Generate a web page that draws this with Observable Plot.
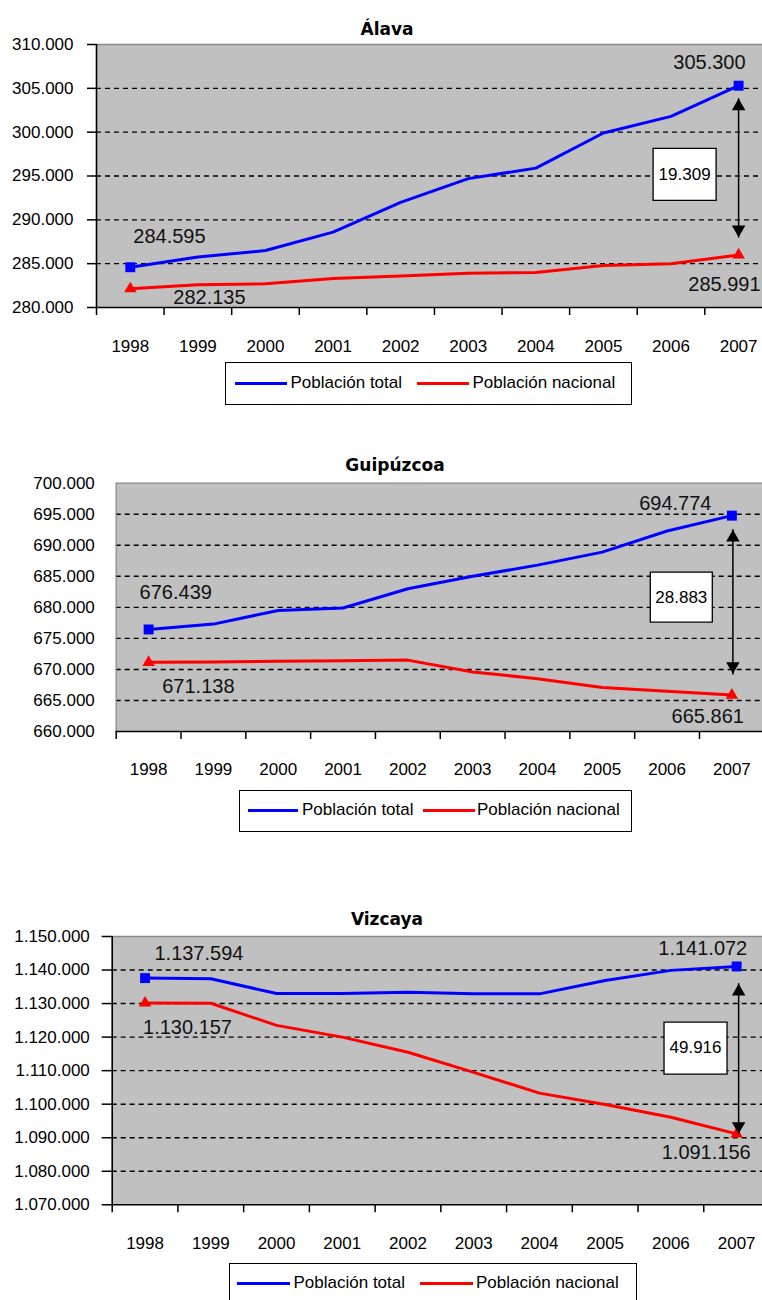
<!DOCTYPE html>
<html>
<head>
<meta charset="utf-8">
<script src="https://cdn.jsdelivr.net/npm/d3@7"></script>
<script src="https://cdn.jsdelivr.net/npm/@observablehq/plot@0.6"></script>
<style>
  html, body { margin: 0; padding: 0; background: #fff; overflow: hidden; }
  #page { position: relative; width: 762px; height: 1300px; overflow: hidden; font-family: "Liberation Sans", Arial, sans-serif; color: #000; }
  .chart { position: absolute; left: 0; }
  .title { position: absolute; font: bold 17px "DejaVu Sans", sans-serif; transform: translate(-50%, -50%); white-space: nowrap; }
  .legend { position: absolute; border: 1.5px solid #000; box-sizing: border-box; background: #fff; }
  .legend .sw { position: absolute; height: 3px; }
  .legend .lt { position: absolute; font-size: 17px; line-height: 20px; white-space: nowrap; transform: translateY(-50%); }
</style>
</head>
<body>
<div id="page"></div>
<script>
// ---------- data ----------
const years = [1998, 1999, 2000, 2001, 2002, 2003, 2004, 2005, 2006, 2007];
const seriesNames = ["Población total", "Población nacional"];
const seriesColors = ["#0000ff", "#ff0000"];
const provinces = ["Álava", "Guipúzcoa", "Vizcaya"];

const alavaTotal     = [284595, 285750, 286500, 288600, 292000, 294700, 295900, 299900, 301800, 305300];
const alavaNacional  = [282135, 282600, 282700, 283300, 283600, 283900, 284000, 284800, 285000, 285991];
const guipuzcoaTotal    = [676439, 677300, 679500, 679900, 683000, 685000, 686800, 688900, 692300, 694774];
const guipuzcoaNacional = [671138, 671200, 671300, 671400, 671500, 669600, 668500, 667100, 666500, 665861];
const vizcayaTotal    = [1137594, 1137400, 1133000, 1133000, 1133400, 1132900, 1132900, 1136900, 1139900, 1141072];
const vizcayaNacional = [1130157, 1130100, 1123500, 1120000, 1115500, 1109500, 1103300, 1099900, 1096100, 1091156];
const differences = [19309, 28883, 49916];

const alavaTicks     = [280000, 285000, 290000, 295000, 300000, 305000, 310000];
const guipuzcoaTicks = [660000, 665000, 670000, 675000, 680000, 685000, 690000, 695000, 700000];
const vizcayaTicks   = [1070000, 1080000, 1090000, 1100000, 1110000, 1120000, 1130000, 1140000, 1150000];

// ---------- formatting ----------
const es = d3.formatLocale({decimal: ",", thousands: ".", grouping: [3], currency: ["", " €"]});
const fmt = es.format(",d");

// ---------- layout (pixels) ----------
const layouts = [
  { svgTop: 0, mTop: 44, frameBottom: 307, left: 96, step: 67.59, yAxisLine: true, yTickSize: 9, yTickPadding: 14, xPad: 32,
    title: [387, 29],
    arrowDx: 0, insets: [13, 18], heads: [20.6, -25.6],
    box: [63, 52], boxOff: [-54, 4],
    labels: { first: [[3, -31, "start"], [43, 9, "start"]], last: [[7, -23.5, "end"], [22, 29.5, "end"]] },
    legend: { left: 225, top: 362, width: 407, height: 43, cy: 383.5, lines: [[235, 287], [417, 469]], texts: [291, 473] } },
  { svgTop: 440, mTop: 42.7, frameBottom: 731, left: 115.7, step: 64.81, yAxisLine: false, yTickSize: 0, yTickPadding: 21.4, xPad: 31,
    title: [395, 465],
    arrowDx: 1, insets: [14, 21], heads: [22, -29.1],
    box: [62, 50], boxOff: [-50.6, -8.2],
    labels: { first: [[-9, -37.3, "start"], [13.6, 24, "start"]], last: [[-20.4, -12.4, "end"], [12, 21.4, "end"]] },
    legend: { left: 239, top: 790, width: 393, height: 42, cy: 810.5, lines: [[248, 298], [423, 475]], texts: [302.5, 477.5] } },
  { svgTop: 900, mTop: 36, frameBottom: 1204.3, left: 111.7, step: 65.73, yAxisLine: true, yTickSize: 10, yTickPadding: 12.4, xPad: 32,
    title: [387, 919],
    arrowDx: 2, insets: [17.4, 0], heads: [25.2, -7.8],
    box: [63, 52], boxOff: [-41.1, -2.1],
    labels: { first: [[9.4, -24.3, "start"], [-2, 24.8, "start"]], last: [[10.6, -17.6, "end"], [14, 18.4, "end"]] },
    legend: { left: 229, top: 1262.5, width: 408, height: 43, cy: 1283.5, lines: [[237.5, 290.5], [420, 473.5]], texts: [294, 476.5] } }
];

const provinceSeries = [
  {total: alavaTotal, nacional: alavaNacional, ticks: alavaTicks},
  {total: guipuzcoaTotal, nacional: guipuzcoaNacional, ticks: guipuzcoaTicks},
  {total: vizcayaTotal, nacional: vizcayaNacional, ticks: vizcayaTicks}
];

const page = document.getElementById("page");

function makeChart(k) {
  const s = provinceSeries[k], L = layouts[k];
  const data = years.map((year, i) => ({year, total: s.total[i], nacional: s.nacional[i]}));
  const first = [data[0]], last = [data[data.length - 1]];
  const ends = [data[0], data[data.length - 1]];
  const ticks = s.ticks;
  const yMin = ticks[0], yMax = ticks[ticks.length - 1];
  const bounds = years.map(y => y - 0.5).concat([years[years.length - 1] + 0.5]);
  const marginBottom = 60;
  const height = L.frameBottom - L.svgTop + marginBottom;
  const mid = d => (d.total + d.nacional) / 2;
  const rectSym = {draw(ctx) { ctx.rect(-L.box[0] / 2, -L.box[1] / 2, L.box[0], L.box[1]); }};

  const labelMarks = [];
  ["total", "nacional"].forEach((key, j) => {
    const f = L.labels.first[j], l = L.labels.last[j];
    labelMarks.push(Plot.text(first, {x: "year", y: key, text: d => fmt(d[key]), dx: f[0], dy: f[1], textAnchor: f[2], fontSize: 20, fill: "#111"}));
    labelMarks.push(Plot.text(last, {x: "year", y: key, text: d => fmt(d[key]), dx: l[0], dy: l[1], textAnchor: l[2], fontSize: 20, fill: "#111"}));
  });

  const svg = Plot.plot({
    width: 762,
    height,
    marginTop: L.mTop,
    marginBottom,
    marginLeft: L.left,
    marginRight: 0,
    style: {fontFamily: "'Liberation Sans', Arial, sans-serif", fontSize: "17px", background: "transparent", color: "#000", overflow: "hidden"},
    x: {domain: [bounds[0], bounds[bounds.length - 1]], range: [L.left, L.left + years.length * L.step], label: null},
    y: {domain: [yMin, yMax], label: null},
    marks: [
      Plot.frame({fill: "#c0c0c0", stroke: "none"}),
      Plot.ruleY(ticks.slice(1, -1), {stroke: "#000", strokeWidth: 1.4, strokeDasharray: "5,4"}),
      Plot.ruleY([yMax], {stroke: "#8a8a8a", strokeWidth: 1.3}),
      Plot.ruleX([bounds[0]], {stroke: L.yAxisLine ? "#000" : "#8a8a8a", strokeWidth: L.yAxisLine ? 1.6 : 1.3}),
      Plot.ruleY([yMin], {stroke: "#000", strokeWidth: 1.6}),
      Plot.axisY(ticks, {tickSize: L.yTickSize, tickPadding: L.yTickPadding, tickFormat: fmt, strokeWidth: 1.5, label: null}),
      Plot.axisX(bounds, {tickSize: 8, tickFormat: () => "", strokeWidth: 1.5, label: null}),
      Plot.axisX(years, {tickSize: 0, tickPadding: L.xPad, tickFormat: d => String(d), label: null}),
      Plot.line(data, {x: "year", y: "total", stroke: seriesColors[0], strokeWidth: 3}),
      Plot.line(data, {x: "year", y: "nacional", stroke: seriesColors[1], strokeWidth: 3}),
      Plot.dot(ends, {x: "year", y: "total", symbol: "square", fill: seriesColors[0], r: 5.6}),
      Plot.dot(ends, {x: "year", y: "nacional", symbol: "triangle", fill: seriesColors[1], r: 4.6}),
      Plot.arrow(last, {x: "year", y1: "total", y2: "nacional", insetStart: L.insets[0], insetEnd: L.insets[1], headLength: 0, stroke: "#000", strokeWidth: 1.5, dx: L.arrowDx}),
      Plot.dot(last, {x: "year", y: "total", symbol: "triangle", fill: "#000", r: 5, dx: L.arrowDx, dy: L.heads[0]}),
      Plot.dot(last, {x: "year", y: "nacional", symbol: "triangle", rotate: 180, fill: "#000", r: 5, dx: L.arrowDx, dy: L.heads[1]}),
      Plot.dot(last, {x: "year", y: mid, symbol: rectSym, r: 1, fill: "#fff", stroke: "#000", strokeWidth: 1.3, dx: L.boxOff[0], dy: L.boxOff[1]}),
      Plot.text(last, {x: "year", y: mid, text: () => fmt(differences[k]), dx: L.boxOff[0], dy: L.boxOff[1], fontSize: 17, fill: "#000"}),
      ...labelMarks
    ]
  });

  const wrap = document.createElement("div");
  wrap.className = "chart";
  wrap.style.top = L.svgTop + "px";
  wrap.appendChild(svg);
  page.appendChild(wrap);

  const t = document.createElement("div");
  t.className = "title";
  t.textContent = provinces[k];
  t.style.left = L.title[0] + "px";
  t.style.top = L.title[1] + "px";
  page.appendChild(t);

  const g = L.legend;
  const box = document.createElement("div");
  box.className = "legend";
  box.style.left = g.left + "px";
  box.style.top = g.top + "px";
  box.style.width = g.width + "px";
  box.style.height = g.height + "px";
  const b = 1.5;
  seriesNames.forEach((name, i) => {
    const sw = document.createElement("div");
    sw.className = "sw";
    sw.style.background = seriesColors[i];
    sw.style.left = (g.lines[i][0] - g.left - b) + "px";
    sw.style.width = (g.lines[i][1] - g.lines[i][0]) + "px";
    sw.style.top = (g.cy - g.top - b - 1.5) + "px";
    box.appendChild(sw);
    const tx = document.createElement("div");
    tx.className = "lt";
    tx.textContent = name;
    tx.style.left = (g.texts[i] - g.left - b) + "px";
    tx.style.top = (g.cy - g.top - b) + "px";
    box.appendChild(tx);
  });
  page.appendChild(box);
}

[0, 1, 2].forEach(makeChart);
</script>
</body>
</html>
